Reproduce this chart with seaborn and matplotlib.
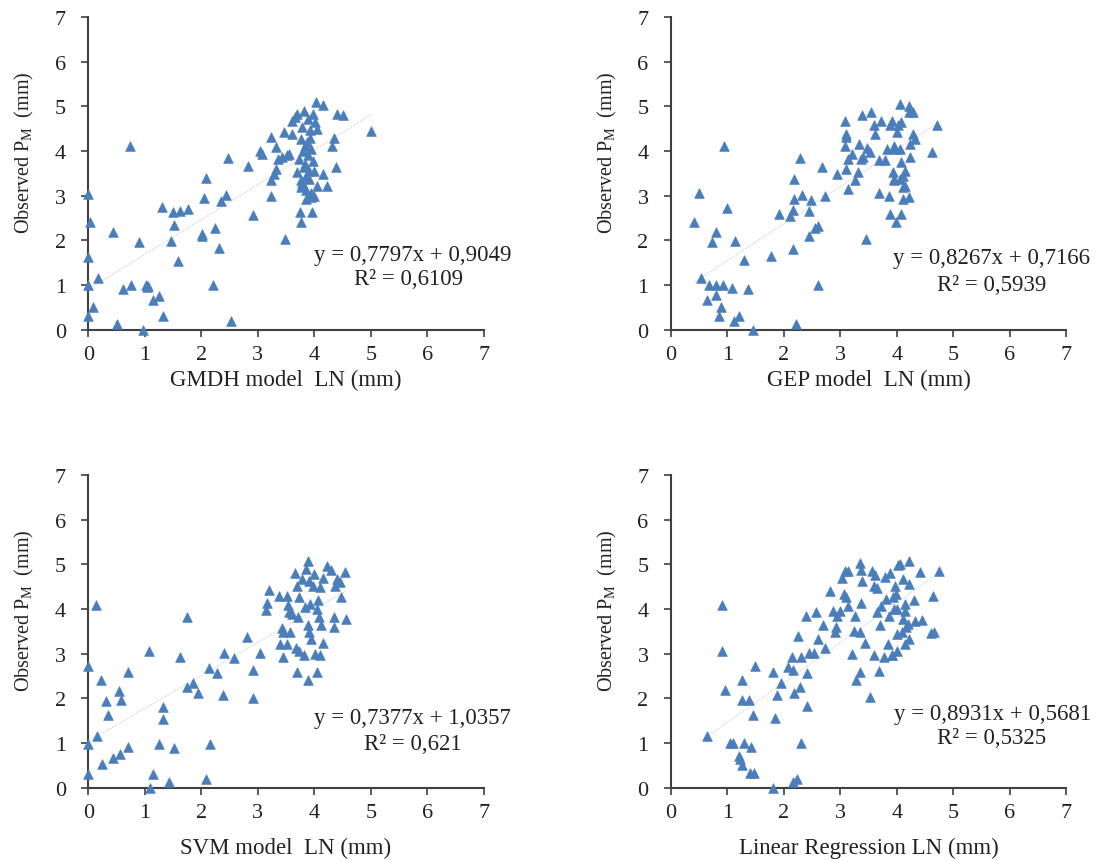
import matplotlib
matplotlib.use("Agg")
import matplotlib.pyplot as plt
import seaborn as sns
import pandas as pd

# (model LN, observed PM) pairs
gmdh_pts = [(0, 3.04), (0.03, 2.40), (0, 1.62), (0, 0.99), (0, 0.31), (0.08, 0.51), (0.18, 1.15),
            (0.44, 2.19), (0.5, 0.13), (0.74, 4.10), (0.62, 0.90), (0.75, 0.99), (0.90, 1.96),
            (0.97, 0.0), (1.02, 1.0), (1.04, 0.95), (1.06, 0.98), (1.15, 0.67), (1.26, 0.76),
            (1.30, 2.74), (1.32, 0.31), (1.46, 1.98), (1.50, 2.63), (1.52, 2.34), (1.59, 1.54),
            (1.63, 2.66), (1.76, 2.69), (2.01, 2.10), (2.02, 2.14), (2.05, 2.94), (2.08, 3.39),
            (2.21, 1.0), (2.25, 2.27), (2.32, 1.82), (2.35, 2.89), (2.43, 3.02), (2.47, 3.84),
            (2.52, 0.19), (2.83, 3.66), (2.92, 2.57), (3.04, 3.99), (3.07, 3.93), (3.23, 4.31),
            (3.23, 3.34), (3.23, 3.0), (3.29, 3.49), (3.33, 4.08), (3.32, 3.60), (3.36, 3.82),
            (3.42, 3.86), (3.46, 4.42), (3.48, 2.03), (3.51, 3.91), (3.56, 3.93), (3.60, 4.38),
            (3.61, 4.68), (3.66, 4.75), (3.69, 3.52), (3.70, 4.83), (3.73, 3.82), (3.75, 2.63),
            (3.76, 3.34), (3.76, 3.19), (3.77, 2.40), (3.77, 4.27), (3.79, 4.53), (3.81, 4.90),
            (3.82, 3.63), (3.83, 4.12), (3.85, 3.45), (3.86, 2.93), (3.88, 4.72), (3.89, 3.90),
            (3.91, 3.37), (3.92, 4.46), (3.94, 3.07), (3.95, 4.04), (3.96, 2.63), (3.97, 4.83),
            (3.98, 3.78), (3.99, 3.0), (4.01, 4.64), (4.03, 5.09), (4.04, 4.49), (4.05, 3.22),
            (4.16, 5.03), (4.15, 3.49), (4.22, 3.22), (4.32, 4.12), (4.35, 4.28), (4.38, 3.63),
            (4.40, 4.83), (4.50, 4.81), (5.0, 4.45), (3.80, 4.0), (3.84, 3.7), (3.87, 4.2),
            (3.90, 3.55), (3.93, 4.3), (3.78, 3.28), (3.86, 3.12), (3.95, 2.96), (3.99, 3.55)]

gep_pts = [(0.41, 2.40), (0.50, 3.05), (0.53, 1.15), (0.64, 0.67), (0.67, 0.99), (0.73, 1.96),
           (0.80, 2.19), (0.80, 0.99), (0.80, 0.78), (0.89, 0.51), (0.86, 0.31), (0.92, 0.99),
           (0.94, 4.10), (1.00, 2.72), (1.08, 0.93), (1.13, 1.98), (1.12, 0.20), (1.20, 0.31),
           (1.30, 1.56), (1.37, 0.90), (1.45, 0.0), (1.77, 1.64), (1.91, 2.60), (2.11, 2.55),
           (2.16, 2.68), (2.17, 1.81), (2.18, 2.93), (2.19, 3.37), (2.21, 0.13), (2.29, 3.84),
           (2.33, 3.02), (2.44, 2.10), (2.45, 2.65), (2.48, 2.90), (2.55, 2.27), (2.61, 2.33),
           (2.60, 1.0), (2.73, 3.0), (2.67, 3.65), (2.95, 3.49), (3.09, 4.68), (3.10, 4.38),
           (3.10, 4.31), (3.09, 4.12), (3.11, 3.60), (3.13, 3.82), (3.14, 3.15), (3.20, 3.93),
           (3.27, 3.34), (3.32, 3.52), (3.34, 4.16), (3.36, 3.82), (3.38, 4.81), (3.40, 3.86),
           (3.47, 4.06), (3.46, 2.03), (3.53, 3.97), (3.54, 4.88), (3.60, 4.58), (3.62, 4.38),
           (3.68, 3.80), (3.69, 3.07), (3.72, 4.68), (3.79, 3.80), (3.82, 4.04), (3.86, 2.99),
           (3.88, 4.57), (3.89, 2.59), (3.93, 3.52), (3.95, 3.34), (3.98, 2.40), (3.97, 4.04),
           (4.06, 5.05), (4.21, 5.01), (4.22, 4.87), (4.28, 4.87), (4.29, 4.38), (4.32, 4.27),
           (4.23, 4.16), (4.71, 4.57), (4.62, 3.97), (4.23, 3.86), (4.14, 3.56), (4.11, 3.45),
           (4.14, 3.22), (4.11, 3.19), (4.22, 2.96), (4.11, 2.93), (4.08, 2.59), (4.08, 4.64),
           (4.02, 4.57), (4.00, 4.42), (3.96, 4.12), (4.06, 4.04), (3.91, 4.68), (4.08, 3.75),
           (4.06, 3.37), (3.95, 3.37)]

svm_pts = [(0, 2.72), (0, 0.98), (0, 0.31), (0.13, 4.09), (0.15, 1.15), (0.22, 2.41), (0.25, 0.53),
           (0.31, 1.95), (0.34, 1.63), (0.43, 0.66), (0.56, 0.75), (0.55, 2.17), (0.57, 1.97),
           (0.70, 0.90), (0.71, 2.60), (1.07, 3.05), (1.09, 0.0), (1.15, 0.31), (1.25, 0.98),
           (1.33, 1.80), (1.33, 1.54), (1.42, 0.13), (1.52, 0.88), (1.62, 2.92), (1.74, 3.81),
           (1.74, 2.25), (1.85, 2.34), (1.95, 2.11), (2.09, 0.19), (2.14, 2.67), (2.15, 0.98),
           (2.27, 2.57), (2.39, 2.07), (2.41, 3.01), (2.57, 2.90), (2.80, 3.38), (2.92, 2.64),
           (2.91, 2.01), (3.04, 3.01), (3.14, 3.98), (3.16, 4.13), (3.20, 4.43), (3.38, 4.28),
           (3.42, 3.57), (3.44, 3.49), (3.40, 3.22), (3.45, 2.92), (3.51, 3.22), (3.52, 4.30),
           (3.54, 4.09), (3.56, 3.93), (3.57, 3.48), (3.60, 3.89), (3.66, 4.81), (3.67, 3.12),
           (3.69, 4.51), (3.70, 2.60), (3.72, 3.81), (3.73, 4.26), (3.73, 3.07), (3.79, 4.67),
           (3.82, 2.96), (3.83, 4.04), (3.85, 4.90), (3.88, 5.08), (3.89, 3.63), (3.89, 2.40),
           (3.91, 4.63), (3.91, 3.48), (3.92, 4.11), (3.94, 3.33), (3.97, 4.52), (3.99, 4.78),
           (4.01, 2.99), (4.04, 4.0), (4.05, 2.60), (4.07, 4.19), (4.09, 3.81), (4.10, 4.49),
           (4.10, 2.96), (4.11, 3.63), (4.15, 3.23), (4.16, 4.69), (4.22, 4.97), (4.29, 4.88),
           (4.34, 3.59), (4.35, 3.81), (4.37, 4.52), (4.40, 4.67), (4.45, 4.60), (4.48, 4.26),
           (4.54, 4.82), (4.56, 3.78)]

lr_pts = [(0.64, 1.15), (0.90, 4.09), (0.90, 3.07), (0.96, 2.19), (1.05, 1.0), (1.11, 1.0),
          (1.20, 0.72), (1.22, 0.64), (1.27, 0.51), (1.26, 2.40), (1.27, 1.96), (1.29, 1.0),
          (1.39, 1.96), (1.40, 0.33), (1.43, 0.90), (1.46, 1.63), (1.47, 0.33), (1.50, 2.73),
          (1.81, 0.0), (1.81, 2.60), (1.85, 1.56), (1.89, 2.07), (1.96, 2.34), (2.08, 2.69),
          (2.14, 2.92), (2.17, 2.64), (2.18, 2.11), (2.17, 0.13), (2.23, 0.19), (2.26, 3.39),
          (2.28, 2.25), (2.30, 2.92), (2.31, 1.0), (2.39, 3.84), (2.41, 2.57), (2.41, 1.82),
          (2.45, 3.01), (2.53, 3.01), (2.57, 3.93), (2.61, 3.33), (2.69, 3.65), (2.73, 3.13),
          (2.82, 4.41), (2.88, 3.96), (2.90, 3.49), (2.93, 3.59), (2.94, 3.85), (3.00, 3.96),
          (3.04, 4.69), (3.06, 4.34), (3.09, 4.84), (3.10, 4.26), (3.13, 4.07), (3.14, 4.84),
          (3.20, 2.99), (3.24, 3.51), (3.26, 3.85), (3.28, 2.40), (3.35, 2.60), (3.35, 5.03),
          (3.36, 4.88), (3.37, 4.13), (3.38, 4.63), (3.35, 3.48), (3.44, 3.24), (3.52, 2.04),
          (3.56, 4.84), (3.59, 2.96), (3.59, 4.51), (3.62, 4.75), (3.65, 3.93), (3.66, 4.46),
          (3.69, 2.62), (3.71, 3.64), (3.73, 4.07), (3.78, 2.92), (3.79, 4.71), (3.81, 4.22),
          (3.85, 3.22), (3.87, 3.85), (3.88, 4.81), (3.91, 2.96), (3.93, 4.26), (3.95, 4.0),
          (3.97, 4.51), (4.00, 3.44), (4.03, 4.98), (4.06, 5.01), (4.21, 5.08), (4.11, 4.67),
          (4.21, 4.56), (4.41, 4.82), (4.75, 4.84), (4.30, 4.19), (4.15, 4.11), (4.15, 3.96),
          (4.33, 3.74), (4.44, 3.75), (4.65, 4.28), (4.61, 3.46), (4.66, 3.48), (4.16, 3.59),
          (4.09, 3.48), (4.21, 3.33), (4.15, 3.22), (4.01, 3.07), (3.92, 2.96), (4.11, 3.78),
          (4.20, 3.66), (3.99, 4.34), (4.01, 4.0)]

models = ["GMDH", "GEP", "SVM", "Linear Regression"]
xlabels = ["GMDH model  LN (mm)", "GEP model  LN (mm)", "SVM model  LN (mm)", "Linear Regression LN (mm)"]
slopes = [0.7797, 0.8267, 0.7377, 0.8931]
intercepts = [0.9049, 0.7166, 1.0357, 0.5681]
r2_values = [0.6109, 0.5939, 0.621, 0.5325]
ticks = [0, 1, 2, 3, 4, 5, 6, 7]

sns.set_style("ticks")
plt.rcParams['font.family'] = ['Liberation Serif', 'DejaVu Serif']
plt.rcParams['mathtext.fontset'] = 'custom'
plt.rcParams['mathtext.rm'] = 'Liberation Serif'

BLUE = "#4a7ebb"
AXC = "#404040"
TXT = "#222222"

frames = []
for name, pts in zip(models, [gmdh_pts, gep_pts, svm_pts, lr_pts]):
    d = pd.DataFrame(pts, columns=["pred", "obs"])
    d["model"] = name
    frames.append(d)
df = pd.concat(frames, ignore_index=True)

fig = plt.figure(figsize=(10.97, 8.62), dpi=100)
W, H = 1097, 862
boxes = [(88.3, 330.7), (670.7, 330.7), (88.3, 788.7), (670.7, 788.7)]
eq_pos = [((5.74, 1.69), (5.66, 1.15)), ((5.68, 1.62), (5.68, 1.02)),
          ((5.74, 1.58), (5.74, 0.98)), ((5.70, 1.65), (5.68, 1.13))]
xlab_y = [-0.125, -0.125, -0.158, -0.158]

for i, name in enumerate(models):
    x0, y0 = boxes[i]
    ax = fig.add_axes([x0 / W, 1 - y0 / H, 395.5 / W, 312.8 / H])
    sub = df[df["model"] == name]

    # excel style linear trendline over the data range
    xs = [sub["pred"].min(), sub["pred"].max()]
    ax.plot(xs, [slopes[i] * v + intercepts[i] for v in xs], color="#d9d9d9",
            lw=1, ls=(0, (1, 1)), zorder=1)

    sns.scatterplot(data=sub, x="pred", y="obs", ax=ax, marker="^", color=BLUE,
                    edgecolor=BLUE, linewidth=0.5, s=48, clip_on=False, zorder=3)

    ax.set_xlim(0, 7)
    ax.set_ylim(0, 7)
    ax.set_xticks(ticks)
    ax.set_yticks(ticks)
    ax.tick_params(axis="both", labelsize=16, colors=AXC, labelcolor=TXT,
                   length=5, width=1.2, direction="out")
    ax.tick_params(axis="x", pad=6)
    ax.tick_params(axis="y", pad=11)
    for s in ["top", "right"]:
        ax.spines[s].set_visible(False)
    for s in ["left", "bottom"]:
        ax.spines[s].set_color(AXC)
        ax.spines[s].set_linewidth(1.5)

    ax.set_xlabel(xlabels[i], fontsize=16.5, color=TXT)
    ax.set_ylabel(r"Observed P$_{\mathrm{M}}$  (mm)", fontsize=14.5, color=TXT)
    ax.xaxis.set_label_coords(0.5, xlab_y[i])
    ax.yaxis.set_label_coords(-0.131, 0.57)

    eq = f"y = {slopes[i]}x + {intercepts[i]}".replace(".", ",")
    r2 = f"R² = {r2_values[i]}".replace(".", ",")
    (ex, ey), (rx, ry) = eq_pos[i]
    ax.text(ex, ey, eq, fontsize=16.5, ha="center", va="center", color=TXT)
    ax.text(rx, ry, r2, fontsize=16.5, ha="center", va="center", color=TXT)

fig.savefig("out.png", dpi=100)
